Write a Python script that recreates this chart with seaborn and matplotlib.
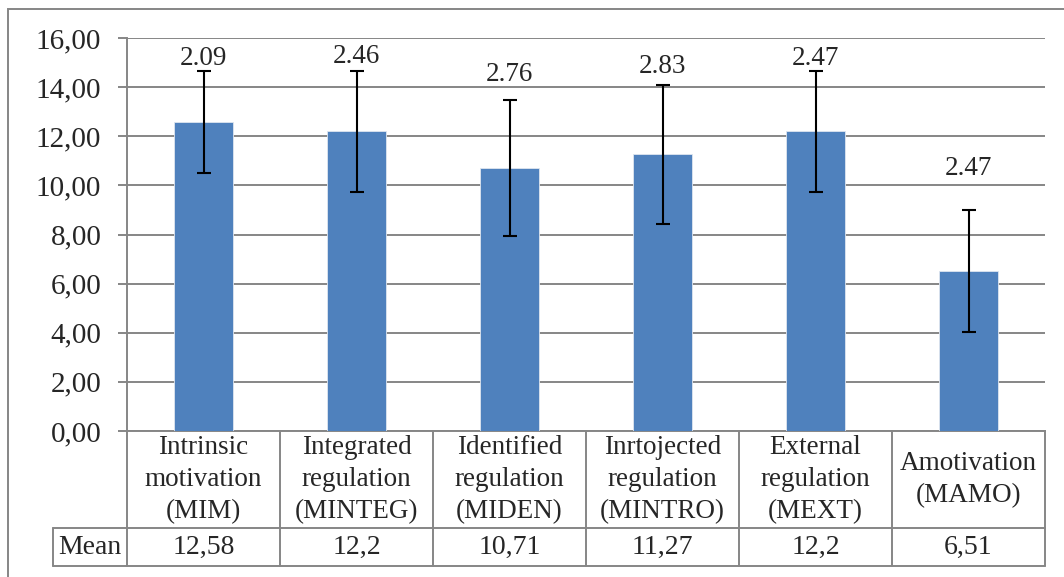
"""
Bar chart of mean motivation scores with SD error bars and an Excel-style data table.
"""

import pandas as pd
import seaborn as sns
import matplotlib.pyplot as plt
from matplotlib.patches import Rectangle
from matplotlib.ticker import FuncFormatter, MultipleLocator

categories = ['Intrinsic\nmotivation\n(MIM)', 'Integrated\nregulation\n(MINTEG)',
              'Identified\nregulation\n(MIDEN)', 'Inrtojected\nregulation\n(MINTRO)',
              'External\nregulation\n(MEXT)', 'Amotivation\n(MAMO)']
means = [12.58, 12.2, 10.71, 11.27, 12.2, 6.51]
mean_labels = ['12,58', '12,2', '10,71', '11,27', '12,2', '6,51']
sds = [2.09, 2.46, 2.76, 2.83, 2.47, 2.47]
sd_labels = ['2.09', '2.46', '2.76', '2.83', '2.47', '2.47']

# how far each sd label sits above its error bar (manual placement in the original)
label_lift = [0.23, 0.31, 0.79, 0.46, 0.23, 1.44]

data = pd.DataFrame({'cat': categories, 'mean': means, 'sd': sds})

sns.set_style('white')
plt.rcParams['font.family'] = ['Liberation Serif', 'DejaVu Serif']

W, H = 1064, 577
fig = plt.figure(figsize=(W / 100, H / 100), dpi=100)
ax = fig.add_axes([127 / W, 1 - 431 / H, 918 / W, 393 / H])

grid_c = '#868686'
sns.barplot(data=data, x='cat', y='mean', color='#4F81BD', saturation=1,
            width=0.39, ax=ax, zorder=3, edgecolor='#dfe6ef', linewidth=0.6)
ax.errorbar(range(len(means)), means, yerr=sds, fmt='none', ecolor='black',
            elinewidth=1.5, capsize=4.8, capthick=1.5, zorder=4)

for i, (m, s, lab) in enumerate(zip(means, sds, sd_labels)):
    ax.text(i, m + s + label_lift[i], lab, ha='center', va='baseline', fontsize=19.5, zorder=5)

ax.set_ylim(0, 16)
ax.set_xlim(-0.5, len(means) - 0.5)
ax.yaxis.set_major_locator(MultipleLocator(2))
ax.yaxis.set_major_formatter(FuncFormatter(lambda v, p: f'{v:.2f}'.replace('.', ',')))
ax.grid(axis='y', color=grid_c, linewidth=1.4, zorder=0)
ax.set_axisbelow(True)
ax.tick_params(axis='y', length=6.5, width=1.4, color=grid_c, labelsize=21, pad=12, left=True)
ax.tick_params(axis='x', length=0, labelbottom=False)
ax.set_xlabel('')
ax.set_ylabel('')
for side in ['top', 'right']:
    ax.spines[side].set_visible(False)
for side in ['left', 'bottom']:
    ax.spines[side].set_color(grid_c)
    ax.spines[side].set_linewidth(1.4)

# data table below the axis
tr = ax.get_xaxis_transform()
row1 = (431 - 528) / 393
row2 = (431 - 566) / 393
mean_left = -0.5 + (53 - 127) / 153
line_kw = dict(color=grid_c, linewidth=1.4, transform=tr, clip_on=False)
for b in [i - 0.5 for i in range(len(means) + 1)]:
    ax.plot([b, b], [0, row2], **line_kw)
ax.plot([mean_left, len(means) - 0.5], [row1, row1], **line_kw)
ax.plot([mean_left, len(means) - 0.5], [row2, row2], **line_kw)
ax.plot([mean_left, mean_left], [row1, row2], **line_kw)

for i, (cat, ml) in enumerate(zip(categories, mean_labels)):
    ax.text(i, row1 / 2, cat, ha='center', va='center', fontsize=19.5,
            linespacing=1.35, transform=tr)
    ax.text(i, (row1 + row2) / 2, ml, ha='center', va='center', fontsize=20, transform=tr)
ax.text((mean_left - 0.5) / 2, (row1 + row2) / 2, 'Mean', ha='center', va='center',
        fontsize=20, transform=tr)

# outer chart frame
fig.patches.append(Rectangle((8 / W, -0.1), 1.1, 1.1 - 9 / H, transform=fig.transFigure,
                             fill=False, edgecolor=grid_c, linewidth=1.4))

fig.savefig('out.png', dpi=100)
